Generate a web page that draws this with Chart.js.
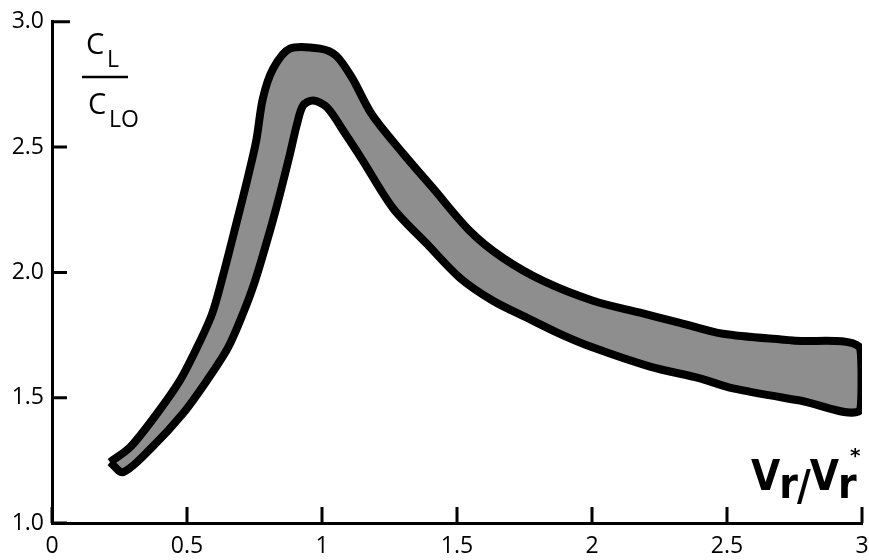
<!DOCTYPE html>
<html lang="en">
  <head>
    <meta charset="UTF-8" />
    <title>CL / CLO vs Vr / Vr*</title>
    <script src="https://cdn.jsdelivr.net/npm/chart.js"></script>
    <style>
      body {
        margin: 0;
        background: #fff;
      }
      .wrap {
        width: 869px;
        height: 560px;
      }
    </style>
  </head>
  <body>
    <div class="wrap">
      <canvas id="bandChart"></canvas>
    </div>

    <script>
      // upper (outer) edge of the band
      const upperX = [0.215, 0.289, 0.389, 0.474, 0.537, 0.593, 0.633, 0.685, 0.722, 0.756, 0.781, 0.819,
        0.881, 0.993, 1.052, 1.111, 1.185, 1.3, 1.411, 1.548, 1.67, 1.819, 2.004, 2.178, 2.326, 2.485,
        2.744, 2.993];
      const upperY = [1.243, 1.302, 1.437, 1.569, 1.7, 1.835, 1.986, 2.205, 2.364, 2.523, 2.694, 2.813,
        2.893, 2.893, 2.865, 2.777, 2.63, 2.475, 2.336, 2.165, 2.058, 1.966, 1.887, 1.839, 1.799, 1.755,
        1.728, 1.7];

      // lower (inner) edge of the band
      const lowerX = [0.263, 0.37, 0.485, 0.574, 0.652, 0.707, 0.752, 0.807, 0.844, 0.881, 0.907, 0.93,
        0.967, 1.019, 1.085, 1.148, 1.263, 1.389, 1.511, 1.633, 1.759, 1.881, 2.004, 2.215, 2.4, 2.522,
        2.77, 2.993];
      const lowerY = [1.203, 1.302, 1.437, 1.569, 1.7, 1.835, 1.966, 2.165, 2.312, 2.471, 2.59, 2.666,
        2.686, 2.658, 2.555, 2.451, 2.256, 2.113, 1.978, 1.887, 1.819, 1.755, 1.7, 1.624, 1.577, 1.537,
        1.489, 1.449];

      const xTicks = [0, 0.5, 1, 1.5, 2, 2.5, 3];
      const xTickLabels = ["0", "0.5", "1", "1.5", "2", "2.5", "3"];
      const yTicks = [1.0, 1.5, 2.0, 2.5, 3.0];
      const yTickLabels = ["1.0", "1.5", "2.0", "2.5", "3.0"];

      // closed outline: along the top edge, then back along the bottom edge
      const outline = upperX.map((x, i) => ({ x: x, y: upperY[i] }));
      for (let i = lowerX.length - 1; i >= 0; i--) {
        outline.push({ x: lowerX[i], y: lowerY[i] });
      }
      outline.push({ x: upperX[0], y: upperY[0] });

      // inward tick marks and the axis labels written on the plot
      const extras = {
        id: "extras",
        afterDraw(chart) {
          const c = chart.ctx;
          const xs = chart.scales.x;
          const ys = chart.scales.y;
          const left = chart.chartArea.left;
          const bottom = chart.chartArea.bottom;
          c.save();
          c.strokeStyle = "#000";
          c.lineWidth = 3;
          c.beginPath();
          yTicks.forEach((v) => {
            const py = ys.getPixelForValue(v);
            c.moveTo(left, py);
            c.lineTo(left + (v === 3 ? 18 : 15), py);
          });
          xTicks.forEach((v) => {
            const px = xs.getPixelForValue(v);
            c.moveTo(px, bottom);
            c.lineTo(px, bottom - 16);
          });
          c.stroke();

          // C_L over C_LO
          c.fillStyle = "#000";
          c.textBaseline = "alphabetic";
          c.font = '29px "Open Sans", sans-serif';
          c.fillText("C", 86, 54);
          c.fillText("C", 88, 114);
          c.font = '23px "Open Sans", sans-serif';
          c.fillText("L", 107, 67);
          c.fillText("LO", 109, 127);
          c.lineWidth = 2.5;
          c.beginPath();
          c.moveTo(82, 77);
          c.lineTo(128, 77);
          c.stroke();

          // Vr/Vr*
          c.font = 'bold 42px "DejaVu Sans Condensed", "Liberation Sans Narrow", sans-serif';
          let px = 751;
          const parts = [["V", 490], ["r", 498], ["/", 500], ["V", 490], ["r", 498]];
          parts.forEach(([t, b]) => {
            c.fillText(t, px, b);
            px += c.measureText(t).width - 1;
          });
          c.font = 'bold 20px "DejaVu Sans", sans-serif';
          c.fillText("*", 850, 462);
          c.restore();
        },
      };

      new Chart(document.getElementById("bandChart"), {
        type: "line",
        data: {
          datasets: [
            {
              data: outline,
              borderColor: "#000",
              borderWidth: 8,
              backgroundColor: "#8e8e8e",
              fill: "shape",
              tension: 0.3,
              pointRadius: 0,
              borderJoinStyle: "round",
            },
          ],
        },
        options: {
          responsive: true,
          maintainAspectRatio: false,
          animation: false,
          layout: { autoPadding: false, padding: { top: 20, right: 7, left: 0, bottom: 0 } },
          plugins: {
            legend: { display: false },
            tooltip: { enabled: false },
          },
          scales: {
            x: {
              type: "linear",
              min: 0,
              max: 3,
              afterBuildTicks: (s) => {
                s.ticks = xTicks.map((v) => ({ value: v }));
              },
              afterFit: (s) => {
                s.height = 37;
                s.paddingLeft = 0;
                s.paddingRight = 0;
              },
              grid: { display: false, drawTicks: false },
              border: { display: true, color: "#000", width: 3 },
              ticks: {
                padding: 10,
                color: "#000",
                maxRotation: 0,
                font: { family: "Open Sans", size: 23 },
                callback: (v) => xTickLabels[xTicks.indexOf(v)],
              },
            },
            y: {
              type: "linear",
              min: 1,
              max: 3,
              afterBuildTicks: (s) => {
                s.ticks = yTicks.map((v) => ({ value: v }));
              },
              afterFit: (s) => {
                s.width = 52;
              },
              grid: { display: false, drawTicks: false },
              border: { display: true, color: "#000", width: 3 },
              ticks: {
                padding: 8,
                color: "#000",
                font: { family: "Open Sans", size: 23 },
                callback: (v) => yTickLabels[yTicks.indexOf(v)],
              },
            },
          },
        },
        plugins: [extras],
      });
    </script>
  </body>
</html>
